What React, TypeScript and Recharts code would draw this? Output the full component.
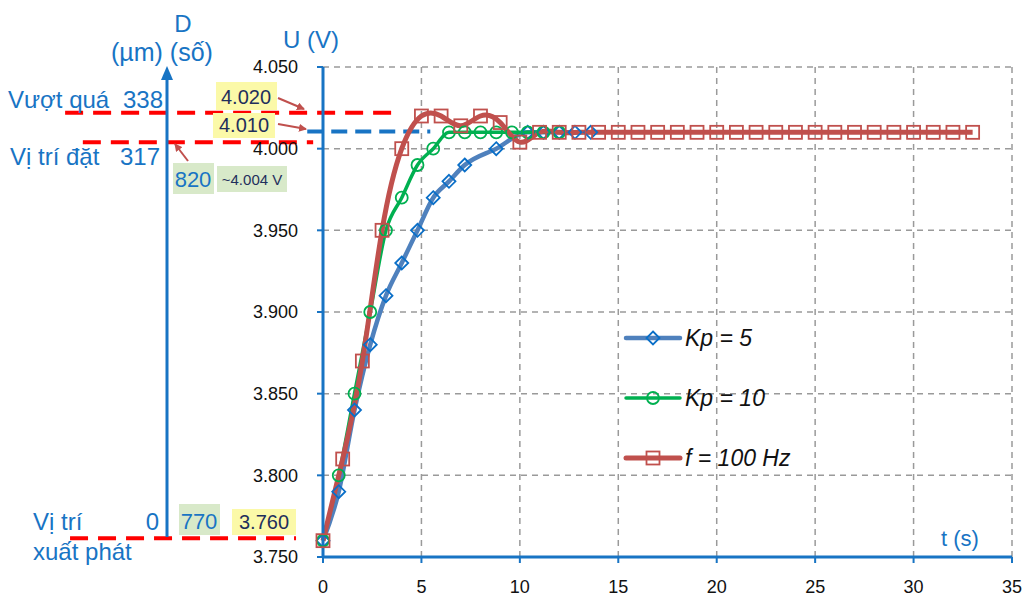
import { LineChart, Line, XAxis, YAxis, CartesianGrid, ReferenceLine } from "recharts";

// Kp = 5 (blue diamonds)
const kp5Time = [0, 0.8, 1.6, 2.4, 3.2, 4.0, 4.8, 5.6, 6.4, 7.2, 8.8, 10.4, 11.2, 12.0, 12.8, 13.6];
const kp5Volt = [3.76, 3.79, 3.84, 3.88, 3.91, 3.93, 3.95, 3.97, 3.98, 3.99, 4.0, 4.01, 4.01, 4.01, 4.01, 4.01];

// Kp = 10 (green circles)
const kp10Time = [0, 0.8, 1.6, 2.4, 3.2, 4.0, 4.8, 5.6, 6.4, 7.2, 8.0, 8.8, 9.6, 10.4, 11.2, 12.0];
const kp10Volt = [3.76, 3.8, 3.85, 3.9, 3.95, 3.97, 3.99, 4.0, 4.01, 4.01, 4.01, 4.01, 4.01, 4.01, 4.01, 4.01];

// f = 100 Hz (red squares)
const f100Time = [
  0, 1, 2, 3, 4, 5, 6, 7, 8, 9, 10, 11, 12, 13, 14, 15, 16, 17,
  18, 19, 20, 21, 22, 23, 24, 25, 26, 27, 28, 29, 30, 31, 32, 33,
];
const f100Volt = [
  3.76, 3.81, 3.87, 3.95, 4.0, 4.02, 4.02, 4.014, 4.02, 4.016, 4.004, 4.01, 4.01, 4.01, 4.01, 4.01, 4.01, 4.01,
  4.01, 4.01, 4.01, 4.01, 4.01, 4.01, 4.01, 4.01, 4.01, 4.01, 4.01, 4.01, 4.01, 4.01, 4.01, 4.01,
];

const xTicks = [0, 5, 10, 15, 20, 25, 30, 35];
const yTicks = [3.75, 3.8, 3.85, 3.9, 3.95, 4.0, 4.05];

// reference levels marked on the left
const overshootLevel = 4.022;
const setpointLevel = 4.004;
const startLevel = 3.7615;
const finalLevel = 4.0105;

const toRows = (ts: number[], vs: number[]) => ts.map((t, i) => ({ t, v: vs[i] }));

const kp5Data = toRows(kp5Time, kp5Volt);
const kp10Data = toRows(kp10Time, kp10Volt);
const f100Data = toRows(f100Time, f100Volt);

const BLUE = "#1874c4";
const NAVY = "#1f2f5c";
const FONT = "'Liberation Sans', Arial, sans-serif";

const Diamond = (props: any) => {
  const { cx, cy, index } = props;
  if (cx == null || cy == null) return <g key={`d${index}`} />;
  const r = 6.5;
  return (
    <path
      key={`d${index}`}
      d={`M${cx},${cy - r}L${cx + r},${cy}L${cx},${cy + r}L${cx - r},${cy}Z`}
      fill="none"
      stroke="#0a6fc8"
      strokeWidth={1.8}
    />
  );
};

const Circle = (props: any) => {
  const { cx, cy, index } = props;
  if (cx == null || cy == null) return <g key={`c${index}`} />;
  return <circle key={`c${index}`} cx={cx} cy={cy} r={6} fill="none" stroke="#00b050" strokeWidth={1.8} />;
};

const Square = (props: any) => {
  const { cx, cy, index } = props;
  if (cx == null || cy == null) return <g key={`s${index}`} />;
  return (
    <rect key={`s${index}`} x={cx - 6.5} y={cy - 6.5} width={13} height={13} fill="none" stroke="#c0504d" strokeWidth={1.8} />
  );
};

const series = [
  { name: "Kp = 5", data: kp5Data, color: "#4f81bd", width: 4.5, dot: Diamond, curve: "monotone" },
  { name: "Kp = 10", data: kp10Data, color: "#00b050", width: 3.5, dot: Circle, curve: "monotone" },
  { name: "f = 100 Hz", data: f100Data, color: "#c0504d", width: 5, dot: Square, curve: "natural" },
];

const LegendBox = () => (
  <div style={{ position: "absolute", left: 624, top: 308, fontFamily: FONT }}>
    {series.map((s) => {
      const Dot = s.dot;
      return (
        <div key={s.name} style={{ height: 60, display: "flex", alignItems: "center" }}>
          <svg width={58} height={20} style={{ overflow: "visible" }}>
            <line x1={2} y1={10} x2={56} y2={10} stroke={s.color} strokeWidth={s.width} strokeLinecap="round" />
            <Dot cx={29} cy={10} index={0} />
          </svg>
          <span style={{ marginLeft: 3, fontSize: 23, fontStyle: "italic", color: "#111", whiteSpace: "nowrap" }}>
            {s.name}
          </span>
        </div>
      );
    })}
  </div>
);

const Arrow = ({ x1, y1, x2, y2 }: { x1: number; y1: number; x2: number; y2: number }) => (
  <line x1={x1} y1={y1} x2={x2} y2={y2} stroke="#c0504d" strokeWidth={2} markerEnd="url(#arrowHead)" />
);

const Annotations = () => (
  <svg
    width={1025}
    height={604}
    style={{ position: "absolute", left: 0, top: 0, pointerEvents: "none", fontFamily: FONT }}
  >
    <defs>
      <marker id="arrowHead" markerWidth="8" markerHeight="8" refX="7" refY="4" orient="auto" markerUnits="userSpaceOnUse">
        <path d="M0,0L8,4L0,8Z" fill="#c0504d" />
      </marker>
    </defs>

    {/* secondary D axis */}
    <line x1={167} y1={537} x2={167} y2={78} stroke={BLUE} strokeWidth={3} />
    <path d="M167,66L173,80L161,80Z" fill={BLUE} />

    <text x={183} y={32} fontSize={24} fill={BLUE} textAnchor="middle">D</text>
    <text x={162} y={61} fontSize={25} fill={BLUE} textAnchor="middle">(µm) (số)</text>
    <text x={311} y={48} fontSize={24} fill={BLUE} textAnchor="middle">U (V)</text>
    <text x={960} y={546} fontSize={22} fill={BLUE} textAnchor="middle">t (s)</text>

    <text x={8} y={108} fontSize={24} fill={BLUE}>Vượt quá</text>
    <text x={163} y={108} fontSize={24} fill={BLUE} textAnchor="end">338</text>
    <text x={10} y={165} fontSize={24} fill={BLUE}>Vị trí đặt</text>
    <text x={160} y={165} fontSize={24} fill={BLUE} textAnchor="end">317</text>
    <text x={33} y={530} fontSize={24} fill={BLUE}>Vị trí</text>
    <text x={33} y={560} fontSize={24} fill={BLUE}>xuất phát</text>
    <text x={159} y={530} fontSize={24} fill={BLUE} textAnchor="end">0</text>

    {/* highlighted values */}
    <rect x={216} y={82} width={61} height={28} fill="#fbf9a8" />
    <text x={246} y={104} fontSize={20} fill={NAVY} textAnchor="middle">4.020</text>
    <rect x={213} y={113} width={62} height={25} fill="#fbf9a8" />
    <text x={244} y={132} fontSize={20} fill={NAVY} textAnchor="middle">4.010</text>

    <rect x={173} y={163} width={41} height={31} fill="#d8e9c9" />
    <text x={193} y={187} fontSize={22} fill={BLUE} textAnchor="middle">820</text>
    <rect x={217} y={166} width={70} height={26} fill="#d8e9c9" />
    <text x={252} y={185} fontSize={15} fill={NAVY} textAnchor="middle">~4.004 V</text>

    <rect x={179} y={504} width={41} height={31} fill="#d8e9c9" />
    <text x={199} y={529} fontSize={22} fill={BLUE} textAnchor="middle">770</text>
    <rect x={232} y={509} width={64} height={26} fill="#fbf9a8" />
    <text x={264} y={529} fontSize={20} fill={NAVY} textAnchor="middle">3.760</text>

    <Arrow x1={278} y1={98} x2={304} y2={109} />
    <Arrow x1={278} y1={124} x2={306} y2={129} />
    <Arrow x1={188} y1={161} x2={175} y2={144} />
  </svg>
);

export default function App() {
  return (
    <div style={{ position: "absolute", left: 0, top: 0, width: 1025, height: 604, background: "#fff" }}>
      <LineChart width={1025} height={604} margin={{ top: 67, right: 13, bottom: 7, left: 0 }}>
        <CartesianGrid stroke="#9a9a9a" strokeWidth={1.5} strokeDasharray="6 5" />
        <XAxis
          type="number"
          dataKey="t"
          domain={[0, 35]}
          ticks={xTicks}
          height={40}
          axisLine={{ stroke: BLUE, strokeWidth: 3 }}
          tickLine={{ stroke: BLUE, strokeWidth: 2 }}
          tickSize={6}
          tickMargin={17}
          tick={{ fontSize: 18, fill: "#111", fontFamily: FONT }}
          allowDuplicatedCategory={false}
        />
        <YAxis
          type="number"
          dataKey="v"
          domain={[3.75, 4.05]}
          ticks={yTicks}
          width={323}
          axisLine={{ stroke: BLUE, strokeWidth: 3 }}
          tickLine={{ stroke: BLUE, strokeWidth: 2 }}
          tickSize={6}
          tickMargin={19}
          tickFormatter={(v: number) => v.toFixed(3)}
          tick={{ fontSize: 18, fill: "#111", fontFamily: FONT }}
        />
        <ReferenceLine
          segment={[{ x: -13.1, y: overshootLevel }, { x: 3.5, y: overshootLevel }]}
          ifOverflow="visible"
          stroke="#ff0000"
          strokeWidth={4}
          strokeDasharray="18 10"
        />
        <ReferenceLine
          segment={[{ x: -12.2, y: setpointLevel }, { x: -0.5, y: setpointLevel }]}
          ifOverflow="visible"
          stroke="#ff0000"
          strokeWidth={4}
          strokeDasharray="18 10"
        />
        <ReferenceLine
          segment={[{ x: -12.85, y: startLevel }, { x: -1.37, y: startLevel }]}
          ifOverflow="visible"
          stroke="#ff0000"
          strokeWidth={4}
          strokeDasharray="18 10"
        />
        <ReferenceLine
          segment={[{ x: -0.8, y: finalLevel }, { x: 5.45, y: finalLevel }]}
          ifOverflow="visible"
          stroke="#1874c4"
          strokeWidth={4}
          strokeDasharray="16 8"
        />
        {series.map((s) => (
          <Line
            key={s.name}
            name={s.name}
            data={s.data}
            dataKey="v"
            type={s.curve as any}
            stroke={s.color}
            strokeWidth={s.width}
            dot={s.dot}
            activeDot={false}
            isAnimationActive={false}
          />
        ))}
      </LineChart>
      <Annotations />
      <LegendBox />
    </div>
  );
}
